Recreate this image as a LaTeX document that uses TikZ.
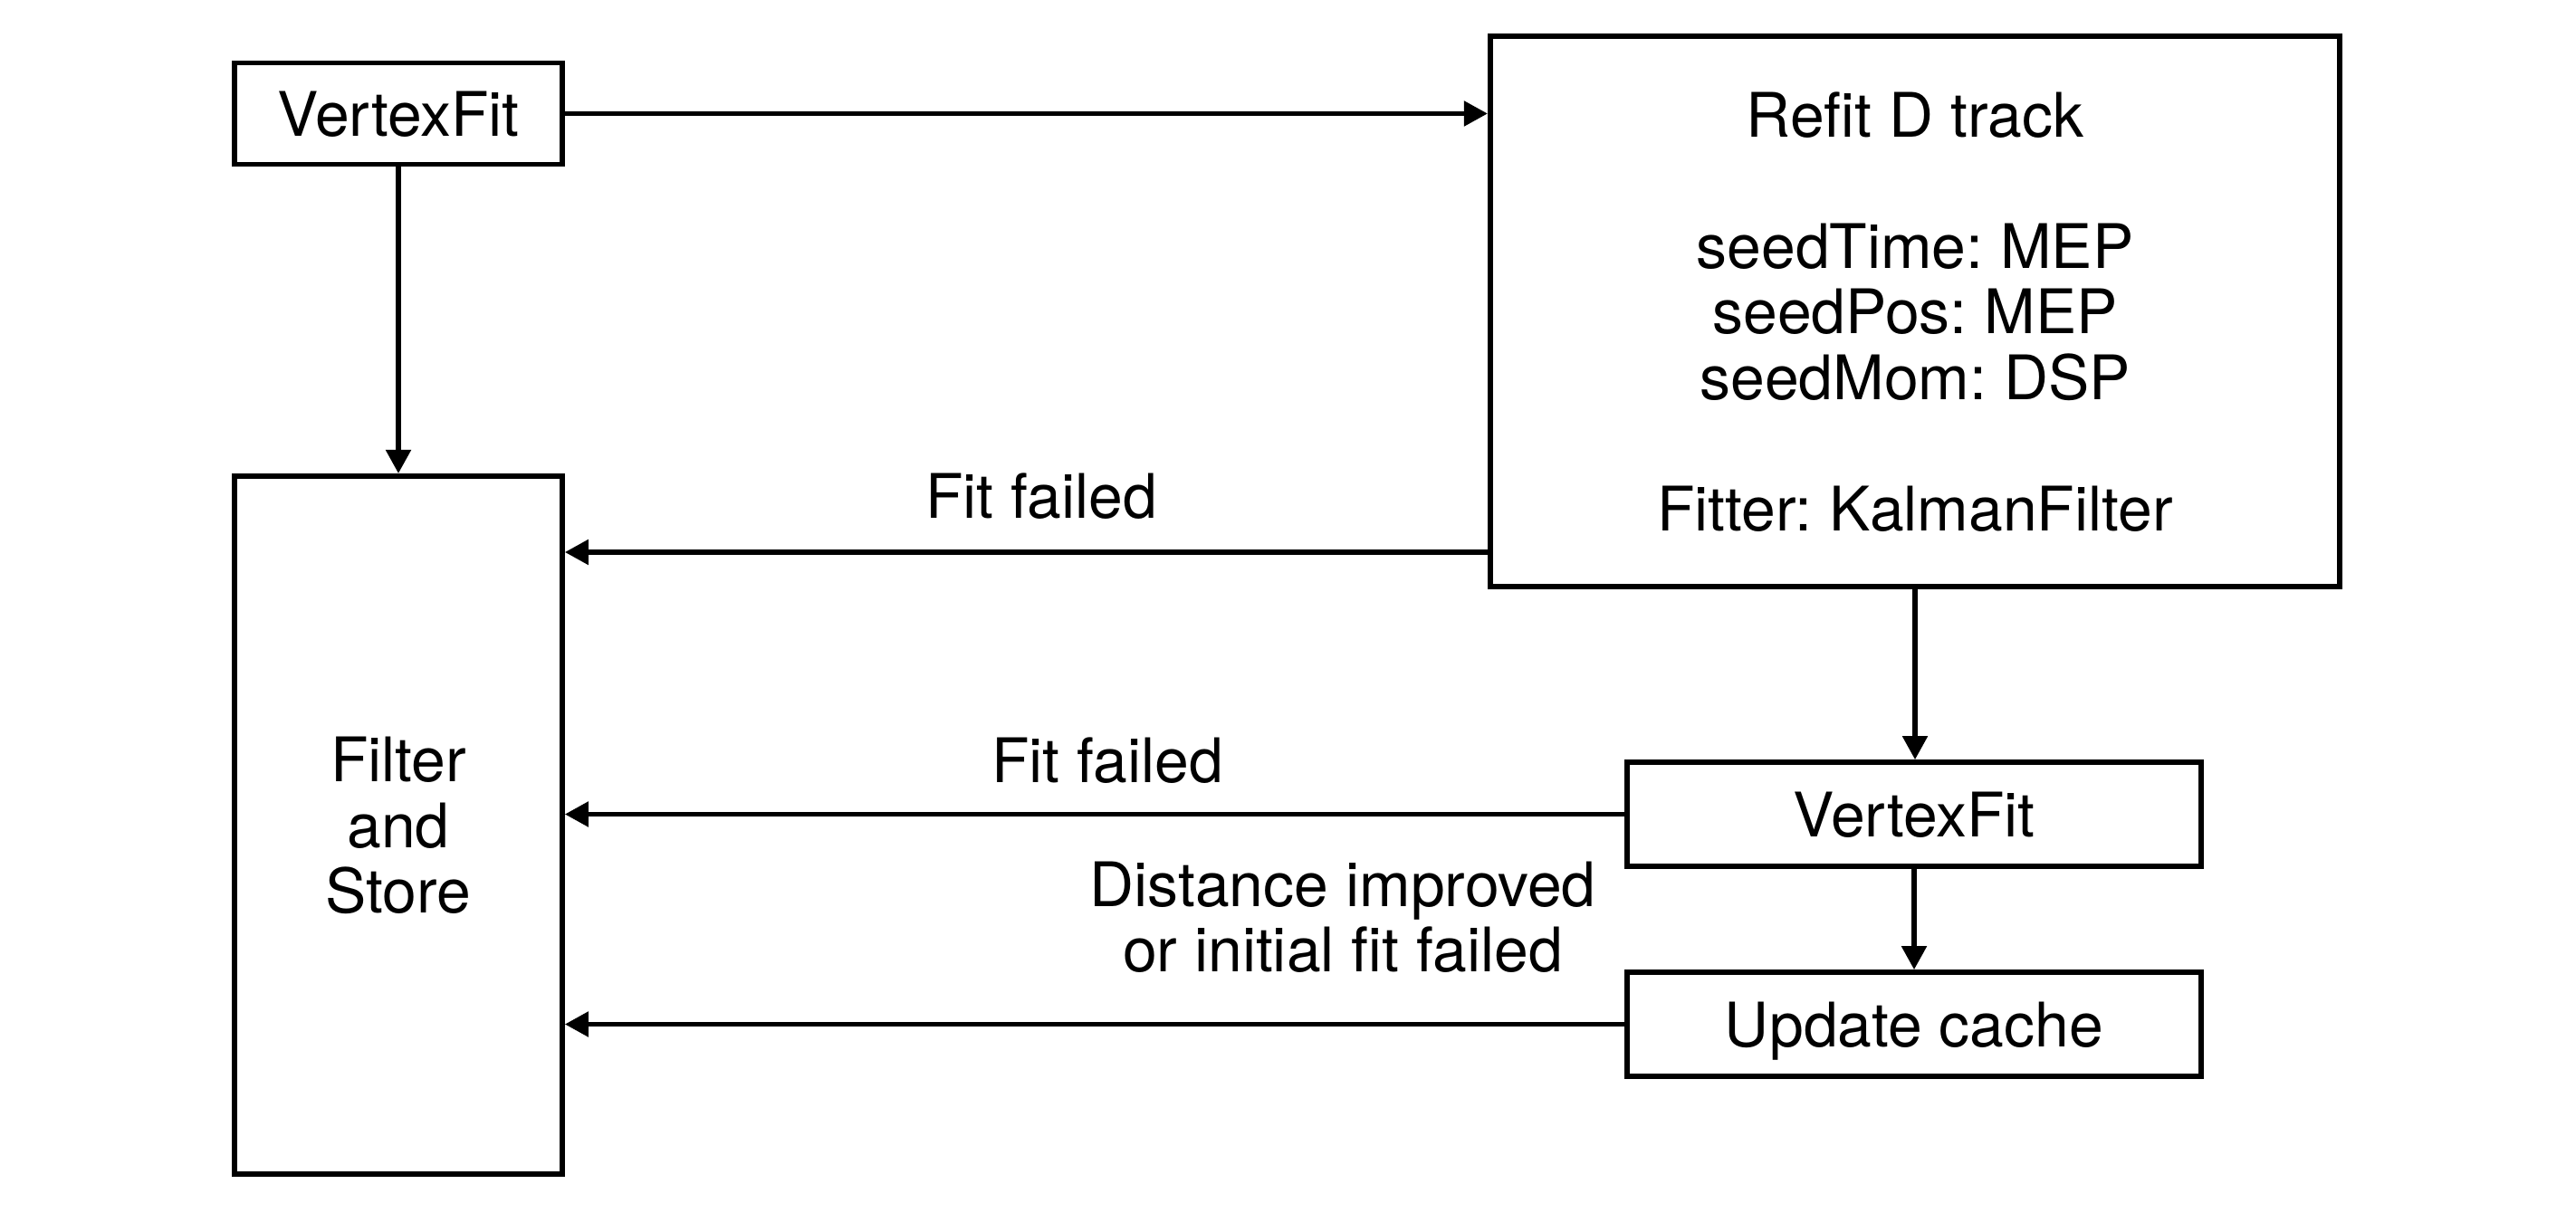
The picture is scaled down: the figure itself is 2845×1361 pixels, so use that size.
\documentclass[tikz,border=0pt]{standalone}
\usepackage{fontspec}
\setmainfont{TeX Gyre Heros}
\usetikzlibrary{arrows.meta}
\frenchspacing
\begin{document}
\begin{tikzpicture}[x=0.01cm,y=-0.01cm,
  box/.style={draw,line width=1.6pt,inner sep=0pt,align=center,text depth=0pt,
    font=\fontsize{19.3}{20.6}\selectfont},
  arr/.style={line width=1.5pt,-{Triangle[length=0.26cm,width=0.27cm]}},
  lbl/.style={align=center,inner sep=0pt,font=\fontsize{19.3}{20.6}\selectfont}]
\useasboundingbox (0,0) rectangle (2845,1361);
\node[box,minimum width=3.62cm,minimum height=1.12cm] (vf1) at (440,125.5) {VertexFit};
\node[box,minimum width=9.38cm,minimum height=6.08cm] (refit) at (2115,344)
  {Refit D track\\[20.6pt]seedTime: MEP\\seedPos: MEP\\seedMom: DSP\\[20.6pt]Fitter: KalmanFilter};
\node[box,minimum width=3.62cm,minimum height=7.71cm] (filter) at (440,911.5) {Filter\\and\\Store};
\node[box,minimum width=6.34cm,minimum height=1.15cm] (vf2) at (2114,899.5) {VertexFit};
\node[box,minimum width=6.34cm,minimum height=1.15cm] (upd) at (2114,1131.5) {Update cache};
\coordinate (fa) at (0,610);
\draw[arr] (vf1.east) -- (vf1.east -| refit.west);
\draw[arr] (vf1.south) -- (filter.north);
\draw[arr] (refit.west |- fa) -- (filter.east |- fa);
\draw[arr] (refit.south) -- (refit.south |- vf2.north);
\draw[arr] (vf2.west) -- (vf2.west -| filter.east);
\draw[arr] (vf2.south) -- (vf2.south |- upd.north);
\draw[arr] (upd.west) -- (upd.west -| filter.east);
\node[lbl] (l1) at (1150,548) {Fit failed};
\node[lbl] (l2) at (1223,840) {Fit failed};
\node[lbl] (l3) at (1483,1013) {Distance improved\\or initial fit failed};
\end{tikzpicture}
\end{document}
